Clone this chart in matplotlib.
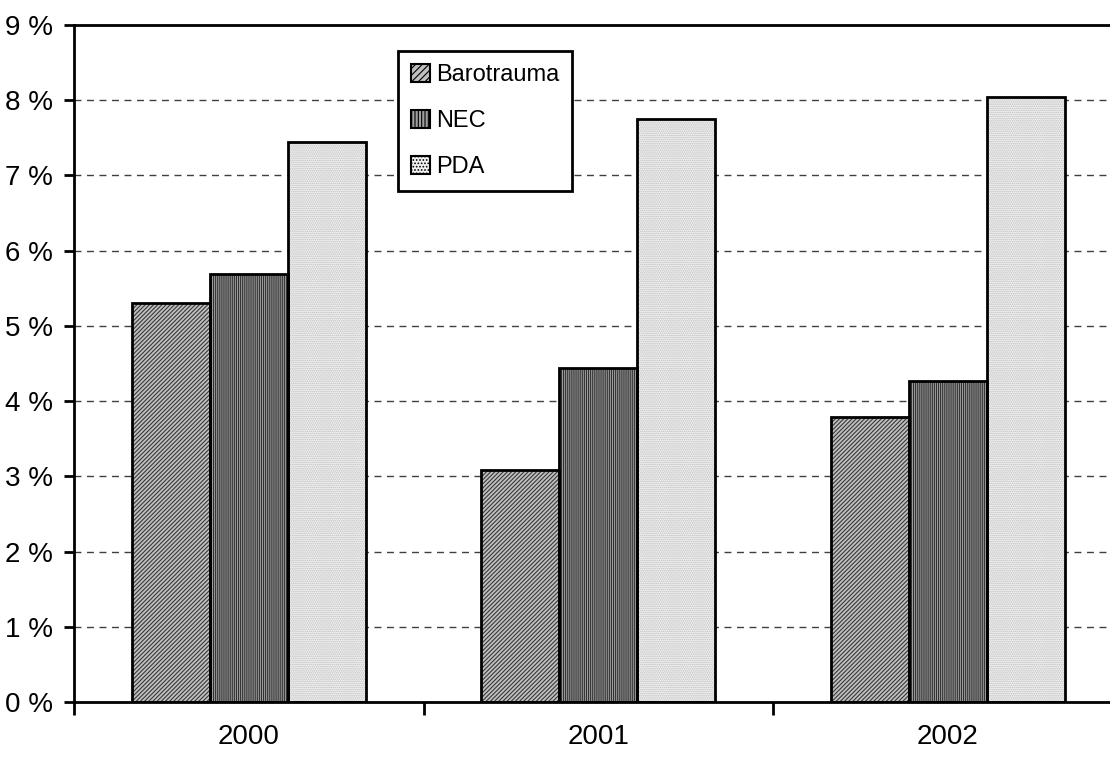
import matplotlib.pyplot as plt
from matplotlib.patches import Patch
from matplotlib.ticker import FixedLocator
import numpy as np

plt.rcParams['font.family'] = ['Liberation Sans Narrow', 'Liberation Sans', 'DejaVu Sans']
plt.rcParams['hatch.linewidth'] = 0.8

years = ['2000', '2001', '2002']
barotrauma = [5.30, 3.09, 3.79]
nec = [5.69, 4.44, 4.27]
pda = [7.44, 7.75, 8.04]

series = [
    ('Barotrauma', barotrauma, '#c0c0c0', '////////', '#383838'),
    ('NEC', nec, '#a0a0a0', '||||||||', '#303030'),
    ('PDA', pda, '#f2f2f2', '........', '#bdbdbd'),
]

fig = plt.figure(figsize=(11.1, 7.6), dpi=100)
ax = fig.add_axes([74 / 1110, 58 / 760, 1048.5 / 1110, 677 / 760])

x = np.arange(len(years))
w = 0.223
handles = []
for i, (name, vals, fc, hatch, hc) in enumerate(series):
    pos = x + (i - 1) * w
    ax.bar(pos, vals, w, color=fc, hatch=hatch, edgecolor=hc, linewidth=0, zorder=2)
    ax.bar(pos, vals, w, fill=False, edgecolor='black', linewidth=2, zorder=3)
    handles.append(Patch(facecolor=fc, hatch=hatch[:5], edgecolor='black', linewidth=1.5, label=name))

ax.set_xlim(-0.5, 2.5)
ax.set_ylim(0, 9)
ax.set_yticks(range(10))
ax.set_yticklabels([f'{v} %' for v in range(10)])
ax.set_xticks(x)
ax.set_xticklabels(years)
ax.xaxis.set_minor_locator(FixedLocator([-0.5, 0.5, 1.5, 2.5]))
ax.tick_params(axis='x', which='major', length=0, pad=16, labelsize=20)
ax.tick_params(axis='x', which='minor', length=9, width=2, direction='out')
ax.tick_params(axis='y', length=7, width=2, direction='out', pad=8, labelsize=20)

for yv in range(1, 9):
    ax.axhline(yv, color='#404040', linewidth=1, linestyle=(0, (5, 4)), zorder=1)

for s in ['left', 'bottom', 'top']:
    ax.spines[s].set_linewidth(2)
ax.spines['right'].set_visible(False)

leg = ax.legend(handles=handles, loc='upper left', bbox_to_anchor=((398 - 74) / 1048.5, (702 - 51) / 677),
                fontsize=17, frameon=True, fancybox=False, framealpha=1, edgecolor='black',
                handlelength=0.8, handleheight=0.8, handletextpad=0.25, labelspacing=1.0,
                borderpad=0.55, borderaxespad=0)
leg.get_frame().set_linewidth(2)
leg.set_zorder(5)

fig.savefig('out.png', dpi=100)
